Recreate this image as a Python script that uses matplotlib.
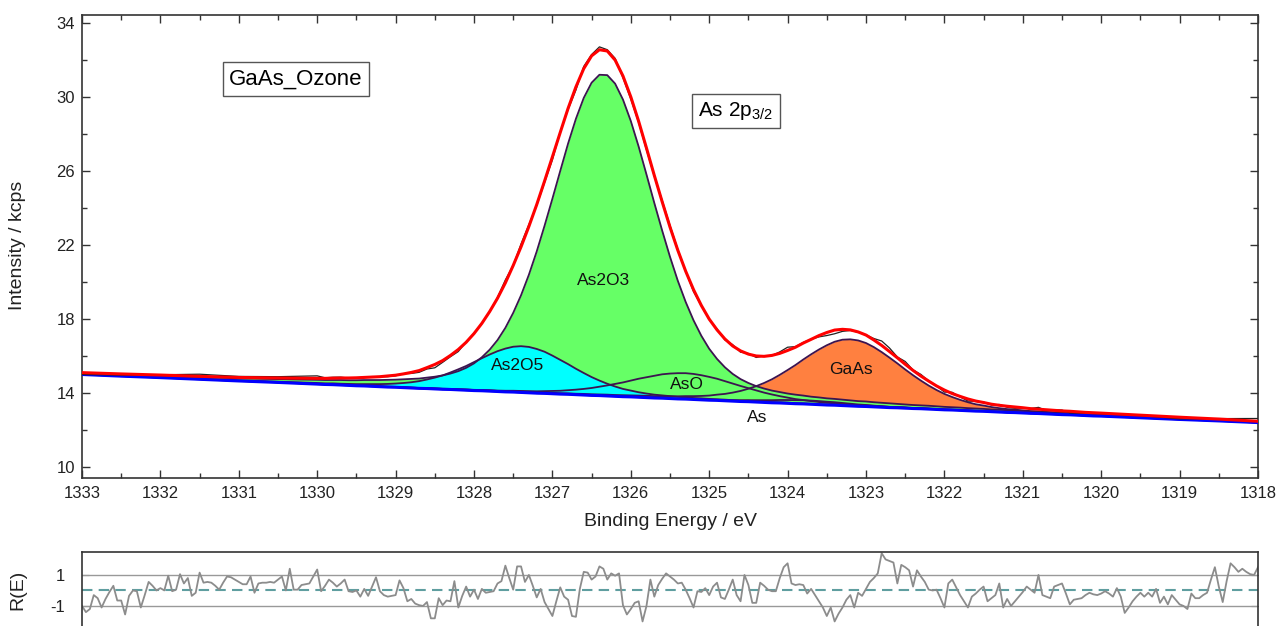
import numpy as np
import matplotlib
matplotlib.use("Agg")
import matplotlib.pyplot as plt
from matplotlib.ticker import MultipleLocator

plt.rcParams['font.family'] = ['Liberation Sans', 'DejaVu Sans']
plt.rcParams['mathtext.default'] = 'regular'

# binding energy sampling (eV): 0.5 eV steps at the ends, 0.1 eV steps 1330 -> 1320
be = np.concatenate([[1333.0, 1332.5, 1332.0, 1331.5, 1331.0, 1330.5],
                     np.round(np.arange(1330.0, 1319.95, -0.1), 1),
                     [1319.5, 1319.0, 1318.5, 1318.0]])

# background (kcps)
background = np.array([
    15.00, 14.91, 14.83, 14.74, 14.65, 14.57,
    14.48, 14.46, 14.45, 14.43, 14.41, 14.39, 14.38, 14.36, 14.34, 14.32, 14.31,
    14.29, 14.27, 14.25, 14.24, 14.22, 14.20, 14.19, 14.17, 14.15, 14.13, 14.12,
    14.10, 14.08, 14.06, 14.05, 14.03, 14.01, 13.99, 13.98, 13.96, 13.94, 13.93, 13.91, 13.89, 13.87,
    13.86, 13.84, 13.82, 13.80, 13.79, 13.77, 13.75, 13.73, 13.72, 13.70, 13.68, 13.67, 13.65, 13.63,
    13.61, 13.60, 13.58, 13.56, 13.54, 13.53, 13.51, 13.49, 13.47, 13.46, 13.44, 13.42, 13.41, 13.39,
    13.37, 13.35, 13.34, 13.32, 13.30, 13.28, 13.27, 13.25, 13.23, 13.21, 13.20, 13.18, 13.16, 13.15,
    13.13, 13.11, 13.09, 13.08, 13.06, 13.04, 13.02, 13.01, 12.99, 12.97, 12.95, 12.94, 12.92, 12.90,
    12.89, 12.87, 12.85, 12.83, 12.82, 12.80, 12.78, 12.76, 12.75, 12.66, 12.57, 12.49, 12.40])

# fitted components, height above background (kcps)
as2o3 = np.array([
    0.07, 0.08, 0.10, 0.12, 0.14, 0.18, 0.23, 0.24, 0.25, 0.27, 0.28, 0.30, 0.32, 0.34,
    0.36, 0.39, 0.41, 0.45, 0.49, 0.53, 0.59, 0.66, 0.75, 0.86, 1.01, 1.21, 1.47, 1.81,
    2.24, 2.78, 3.46, 4.28, 5.25, 6.38, 7.66, 9.06, 10.54, 12.06, 13.55, 14.91, 16.06, 16.90,
    17.34, 17.34, 16.90, 16.06, 14.91, 13.55, 12.06, 10.54, 9.06, 7.66, 6.38, 5.25, 4.28, 3.46,
    2.78, 2.24, 1.81, 1.47, 1.21, 1.01, 0.86, 0.75, 0.66, 0.59, 0.53, 0.49, 0.45, 0.41,
    0.39, 0.36, 0.34, 0.32, 0.30, 0.28, 0.27, 0.25, 0.24, 0.23, 0.21, 0.20, 0.19, 0.18,
    0.18, 0.17, 0.16, 0.15, 0.15, 0.14, 0.14, 0.13, 0.12, 0.12, 0.12, 0.11, 0.11, 0.10,
    0.10, 0.10, 0.09, 0.09, 0.09, 0.08, 0.08, 0.08, 0.08, 0.07, 0.06, 0.05, 0.04])
as2o5 = np.array([
    0.01, 0.02, 0.02, 0.02, 0.03, 0.04, 0.06, 0.06, 0.07, 0.07, 0.08, 0.09, 0.10, 0.12,
    0.14, 0.17, 0.20, 0.25, 0.31, 0.39, 0.49, 0.61, 0.75, 0.92, 1.11, 1.31, 1.54, 1.76,
    1.98, 2.18, 2.34, 2.45, 2.50, 2.48, 2.39, 2.25, 2.06, 1.85, 1.63, 1.40, 1.19, 0.99,
    0.81, 0.66, 0.53, 0.42, 0.34, 0.27, 0.22, 0.18, 0.15, 0.13, 0.11, 0.09, 0.08, 0.08,
    0.07, 0.06, 0.06, 0.05, 0.05, 0.05, 0.04, 0.04, 0.04, 0.04, 0.04, 0.03, 0.03, 0.03,
    0.03, 0.03, 0.03, 0.02, 0.02, 0.02, 0.02, 0.02, 0.02, 0.02, 0.02, 0.02, 0.02, 0.02,
    0.02, 0.01, 0.01, 0.01, 0.01, 0.01, 0.01, 0.01, 0.01, 0.01, 0.01, 0.01, 0.01, 0.01,
    0.01, 0.01, 0.01, 0.01, 0.01, 0.01, 0.01, 0.01, 0.01, 0.01, 0.01, 0.01, 0.00])
aso = np.array([
    0.01, 0.01, 0.01, 0.01, 0.01, 0.01, 0.01, 0.01, 0.01, 0.02, 0.02, 0.02, 0.02, 0.02,
    0.02, 0.02, 0.02, 0.02, 0.02, 0.02, 0.03, 0.03, 0.03, 0.03, 0.03, 0.04, 0.04, 0.04,
    0.05, 0.05, 0.06, 0.07, 0.08, 0.09, 0.10, 0.12, 0.15, 0.18, 0.22, 0.27, 0.33, 0.40,
    0.48, 0.57, 0.67, 0.77, 0.88, 1.00, 1.10, 1.20, 1.29, 1.35, 1.39, 1.40, 1.38, 1.33,
    1.26, 1.17, 1.06, 0.95, 0.84, 0.73, 0.63, 0.53, 0.45, 0.37, 0.31, 0.25, 0.21, 0.17,
    0.14, 0.12, 0.10, 0.08, 0.07, 0.06, 0.06, 0.05, 0.05, 0.04, 0.04, 0.04, 0.03, 0.03,
    0.03, 0.03, 0.03, 0.02, 0.02, 0.02, 0.02, 0.02, 0.02, 0.02, 0.02, 0.02, 0.02, 0.02,
    0.01, 0.01, 0.01, 0.01, 0.01, 0.01, 0.01, 0.01, 0.01, 0.01, 0.01, 0.01, 0.01])
as_el = np.array([
    0.000, 0.000, 0.000, 0.000, 0.000, 0.001, 0.001, 0.001, 0.001, 0.001, 0.001, 0.001, 0.001, 0.001,
    0.001, 0.001, 0.001, 0.001, 0.001, 0.001, 0.001, 0.001, 0.001, 0.001, 0.001, 0.001, 0.001, 0.001,
    0.002, 0.002, 0.002, 0.002, 0.002, 0.002, 0.002, 0.002, 0.002, 0.002, 0.003, 0.003, 0.003, 0.003,
    0.003, 0.004, 0.004, 0.004, 0.005, 0.005, 0.006, 0.006, 0.007, 0.008, 0.010, 0.012, 0.015, 0.019,
    0.024, 0.031, 0.040, 0.051, 0.065, 0.081, 0.100, 0.120, 0.141, 0.161, 0.179, 0.192, 0.199, 0.199,
    0.192, 0.179, 0.161, 0.141, 0.120, 0.100, 0.081, 0.065, 0.051, 0.040, 0.031, 0.024, 0.019, 0.015,
    0.012, 0.010, 0.008, 0.007, 0.006, 0.006, 0.005, 0.005, 0.004, 0.004, 0.004, 0.003, 0.003, 0.003,
    0.003, 0.003, 0.002, 0.002, 0.002, 0.002, 0.002, 0.002, 0.002, 0.001, 0.001, 0.001, 0.001])
gaas = np.array([
    0.01, 0.01, 0.01, 0.01, 0.01, 0.01, 0.01, 0.02, 0.02, 0.02, 0.02, 0.02, 0.02, 0.02,
    0.02, 0.02, 0.02, 0.02, 0.02, 0.02, 0.02, 0.02, 0.02, 0.03, 0.03, 0.03, 0.03, 0.03,
    0.03, 0.03, 0.03, 0.04, 0.04, 0.04, 0.04, 0.04, 0.05, 0.05, 0.05, 0.05, 0.06, 0.06,
    0.06, 0.07, 0.07, 0.08, 0.08, 0.09, 0.10, 0.10, 0.11, 0.12, 0.14, 0.16, 0.18, 0.21,
    0.25, 0.31, 0.37, 0.46, 0.57, 0.70, 0.86, 1.05, 1.27, 1.52, 1.80, 2.09, 2.40, 2.70,
    2.98, 3.23, 3.43, 3.56, 3.60, 3.56, 3.43, 3.23, 2.98, 2.70, 2.40, 2.09, 1.80, 1.52,
    1.27, 1.05, 0.86, 0.70, 0.57, 0.46, 0.37, 0.31, 0.25, 0.21, 0.18, 0.16, 0.14, 0.12,
    0.11, 0.10, 0.10, 0.09, 0.08, 0.08, 0.07, 0.07, 0.06, 0.05, 0.04, 0.03, 0.02])

# normalised residual R(E), 0.05 eV steps from 1333 to 1318 eV
residual = np.array([
    -1.0, -1.4, -1.2, -0.3, -0.5, -1.1, -0.55, -0.1, 0.3, -0.65,
    -0.65, -1.55, -0.35, 0.0, -0.05, -1.1, -0.3, 0.55, 0.3, 0.0,
    0.15, 0.0, 0.95, -0.05, 0.05, 1.05, 0.45, 0.8, -0.35, -0.15,
    1.15, 0.5, 0.55, 0.5, 0.3, 0.05, 0.5, 0.9, 0.85, 0.7,
    0.55, 0.4, 0.4, 0.9, -0.15, 0.45, 0.5, 0.5, 0.55, 0.5,
    0.7, 0.9, 0.0, 1.4, 0.05, 0.05, 0.35, 0.4, 0.45, 0.9,
    1.35, -0.05, 0.3, 0.7, 0.5, 0.25, 0.45, 0.7, -0.05, -0.1,
    0.0, -0.4, 0.1, -0.35, 0.25, 0.85, -0.05, -0.3, -0.4, -0.35,
    -0.3, 0.65, 0.15, -0.7, -0.55, -0.85, -0.95, -1.0, -0.75, -1.8,
    -1.8, -0.5, -0.95, -0.65, -0.7, 0.6, -1.1, -0.35, 0.25, -0.4,
    0.05, -0.55, 0.1, -0.15, -0.1, -0.05, 0.45, 0.6, 1.6, 0.8,
    0.05, 1.55, 1.55, 0.55, 1.0, 0.3, -0.45, 0.1, -0.75, -1.2,
    -1.65, -0.7, 0.2, -0.4, -0.6, -1.65, -1.7, 0.1, 1.2, 1.15,
    0.7, 0.9, 1.55, 1.4, 0.7, 1.1, 0.95, 1.1, -0.95, -1.55,
    -1.2,
    -0.8, -0.7, -2.0, -1.0, 0.7, -0.4, 0.35, 0.75, 1.1, 0.9,
    0.7, 0.45, 0.5, 0.05, -0.5, -1.1, -0.05, -0.1, 0.15, -0.3,
    0.25, 0.5, -0.45, -0.55, 0.05, 0.7, -0.3, -0.7, 1.0, 0.35,
    -0.8, -0.8, 0.5, 0.3, 0.05, -0.05, -0.05, 0.8, 1.5, 1.75,
    0.45, 0.35, 0.4, 0.35, -0.2, 0.1, -0.3, -0.7, -1.1, -1.65,
    -1.1, -2.0, -1.5, -1.1, -0.6, -0.3, -1.1, -0.15, -0.35, 0.1,
    0.55, 0.8, 1.1, 2.4, 2.0, 1.9, 1.8, 0.45, 1.65, 1.5,
    1.3, 0.25, 1.3, 0.9, 0.55, 0.05, 0.0, 0.05, -0.5, -1.1,
    0.45, 0.7, 0.2, -0.3, -0.7, -1.1, -0.4, -0.2, 0.05, 0.25,
    -0.7, -0.5, -0.3, 0.45, -1.1, -0.55, -1.0, -0.7, -0.4, -0.1,
    0.25, 0.05, -0.15, 1.0, -0.3, -0.4, -0.5, 0.25, 0.35, 0.45,
    -0.2, -0.9, -0.6, -0.55, -0.5, -0.3, -0.15, -0.25, -0.3, -0.2,
    -0.05, -0.2, -0.4, 0.15, -0.4, -1.45, -1.1, -0.7, -0.4, -0.15,
    -0.4, -0.15, -0.4, 0.1, -0.8, -0.4, -0.9, -0.3, -0.6, -0.9,
    -1.0, -1.2, -0.2, -0.5, -0.5, -0.3, -0.15, 0.7, 1.5, 0.25,
    -0.75, 0.6, 1.75, 1.5, 1.2, 1.4, 1.2, 1.05, 1.0, 1.5])

comp_names = ['As2O3', 'As2O5', 'AsO', 'As', 'GaAs']
label_x = [1326.35, 1327.44, 1325.28, 1324.39, 1323.19]
label_y = [20.1, 15.5, 14.45, 12.7, 15.25]

envelope = background + as2o3 + as2o5 + aso + as_el + gaas
res_be = np.linspace(1333.0, 1318.0, len(residual))
step = (1333.0 - 1318.0) / (len(residual) - 1)
idx = np.rint((1333.0 - be) / step).astype(int)
measured = envelope + 0.1 * residual[idx]

W, H = 1282, 626
fig = plt.figure(figsize=(W / 100, H / 100), dpi=100)
ax = fig.add_axes([82 / W, 1 - 478 / H, 1176 / W, 463 / H])
axr = fig.add_axes([82 / W, 1 - 645 / H, 1176 / W, 93 / H])

green = '#66ff66'
outline = '#3c1450'
fills = [(gaas, '#ff8040'), (as_el, green), (aso, green), (as2o3, green), (as2o5, '#00ffff')]
for comp, col in fills:
    ax.fill_between(be, background, background + comp, color=col, lw=0, zorder=2)
for comp, col in fills:
    ax.plot(be, background + comp, color=outline, lw=1.3, zorder=3)
ax.plot(be, background, color='#0000ff', lw=2.2, zorder=4)
ax.plot(be, measured, color='#222222', lw=0.9, zorder=5)
ax.plot(be, envelope, color='#ff0000', lw=2.2, zorder=6)

for name, x, y in zip(comp_names, label_x, label_y):
    ax.text(x, y, name, ha='center', va='center', fontsize=12.5, color='#111111', zorder=7)

box = dict(boxstyle='square,pad=0.3', fc='white', ec='#555555', lw=1)
ax.text(0.182, 0.862, 'GaAs_Ozone', transform=ax.transAxes, ha='center', va='center',
        fontsize=16, bbox=box, zorder=8)
ax.text(0.556, 0.793, 'As 2p$_{3/2}$', transform=ax.transAxes, ha='center', va='center',
        fontsize=15, bbox=box, zorder=8)

ax.set_xlim(1333, 1318)
ax.set_ylim(9.405, 34.43)
ax.xaxis.set_major_locator(MultipleLocator(1))
ax.xaxis.set_minor_locator(MultipleLocator(0.5))
ax.yaxis.set_minor_locator(MultipleLocator(2))
ax.set_yticks([10, 14, 18, 22, 26, 30, 34])
ax.tick_params(which='both', direction='in', top=True, right=True, labelsize=12,
               width=1, color='#333333', labelcolor='#222222')
ax.tick_params(which='major', length=6)
ax.tick_params(which='minor', length=3.5)
ax.tick_params(axis='x', pad=6)
ax.tick_params(axis='y', pad=5)
for sp in ax.spines.values():
    sp.set_linewidth(1.2)
    sp.set_color('#333333')

# residual panel
axr.axhline(1, color='#999999', lw=1)
axr.axhline(-1, color='#999999', lw=1)
axr.axhline(0, color='#5f9ea0', lw=1.5, ls=(0, (5, 3)))
axr.plot(res_be, residual, color='#8c8c8c', lw=1.3)
axr.set_xlim(1333, 1318)
axr.set_ylim(-3.52, 2.48)
axr.set_yticks([1, -1])
axr.set_yticklabels(['1', '-1'])
axr.set_xticks([])
axr.tick_params(axis='y', direction='in', right=True, labelsize=12, length=5, pad=12,
                color='#333333', labelcolor='#222222')
for sp in axr.spines.values():
    sp.set_linewidth(1.2)
    sp.set_color('#333333')

fig.text(18 / W, 1 - 245 / H, 'Intensity / kcps', rotation=90, ha='center', va='center',
         fontsize=14, color='#222222')
fig.text(670 / W, 1 - 522 / H, 'Binding Energy / eV', ha='center', va='center',
         fontsize=14, color='#222222')
fig.text(18 / W, 1 - 590 / H, 'R(E)', rotation=90, ha='center', va='center',
         fontsize=14, color='#222222')

fig.savefig('out.png', dpi=100)
